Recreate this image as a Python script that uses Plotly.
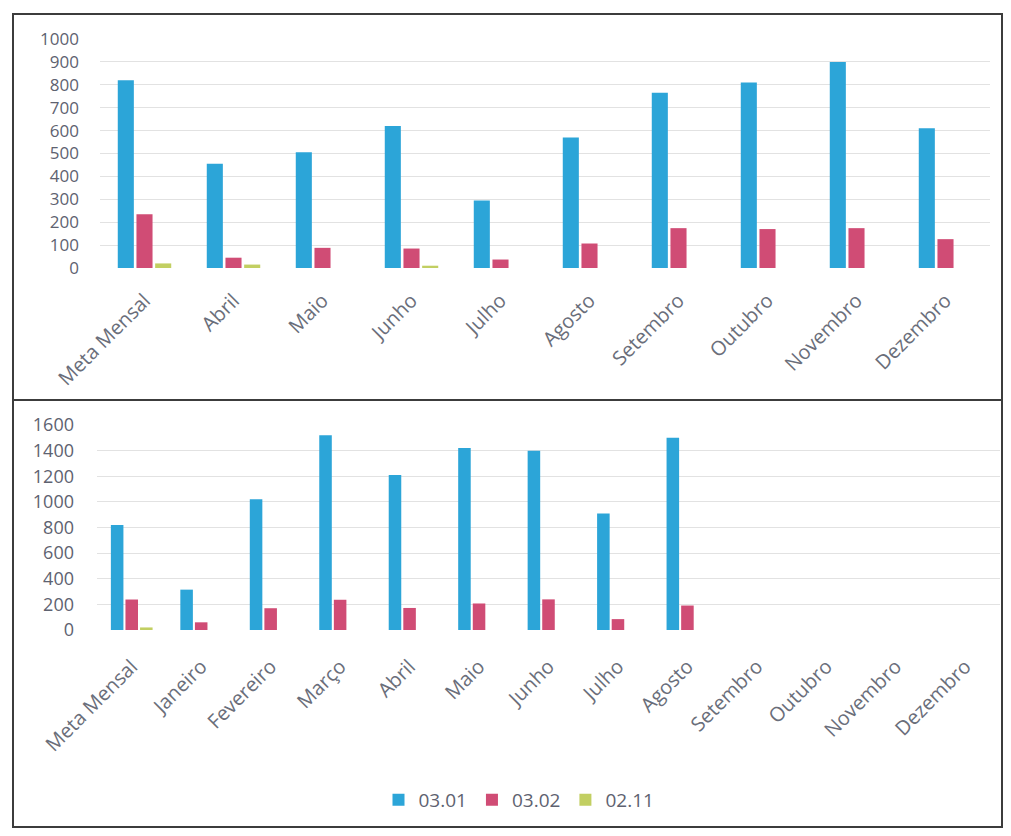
import plotly.graph_objects as go

# ---------------- data ----------------
top_categories = ["Meta Mensal", "Abril", "Maio", "Junho", "Julho", "Agosto",
                  "Setembro", "Outubro", "Novembro", "Dezembro"]
top_0301 = [820, 455, 505, 620, 295, 570, 765, 810, 900, 610]
top_0302 = [235, 45, 88, 85, 37, 107, 174, 170, 174, 126]
top_0211 = [20, 15, 0, 10, 0, 0, 0, 0, 0, 0]

bottom_categories = ["Meta Mensal", "Janeiro", "Fevereiro", "Março", "Abril", "Maio",
                     "Junho", "Julho", "Agosto", "Setembro", "Outubro", "Novembro", "Dezembro"]
bottom_0301 = [820, 315, 1020, 1520, 1210, 1420, 1400, 910, 1500, None, None, None, None]
bottom_0302 = [238, 60, 170, 236, 172, 207, 239, 85, 191, None, None, None, None]
bottom_0211 = [20, 0, 0, 0, 0, 0, 0, 0, 0, None, None, None, None]

series_names = ["03.01", "03.02", "02.11"]
top_ticks = [0, 100, 200, 300, 400, 500, 600, 700, 800, 900, 1000]
bottom_ticks = [0, 200, 400, 600, 800, 1000, 1200, 1400, 1600]

# ---------------- style ----------------
COLORS = ["#2CA5D8", "#D04C75", "#C2CF62"]
TEXT = "#5E6270"
FONT = "Open Sans"
PAGE_MARGIN = 8            # default body margin of the html page
W, H = 1011 - 2 * PAGE_MARGIN, 836 - 2 * PAGE_MARGIN

fig = go.Figure()

for name, vals, col in zip(series_names, [top_0301, top_0302, top_0211], COLORS):
    fig.add_trace(go.Bar(x=top_categories, y=vals, name=name, marker_color=col,
                         marker_line_width=0, showlegend=False,
                         xaxis="x", yaxis="y"))

for name, vals, col in zip(series_names, [bottom_0301, bottom_0302, bottom_0211], COLORS):
    fig.add_trace(go.Bar(x=bottom_categories, y=vals, name=name, marker_color=col,
                         marker_line_width=0, showlegend=True,
                         xaxis="x2", yaxis="y2"))

def px_x(v):
    return (v - PAGE_MARGIN) / W

def px_y(v):
    return 1 - (v - PAGE_MARGIN) / H

y_font = dict(family=FONT, size=17, color=TEXT)
x_font = dict(family=FONT, size=20, color="#6A6E7A")

fig.update_layout(
    width=W, height=H,
    margin=dict(l=0, r=0, t=0, b=0),
    paper_bgcolor="white", plot_bgcolor="white",
    barmode="group", bargap=0.37, bargroupgap=0.14,
    font=dict(family=FONT, color=TEXT),
    xaxis=dict(domain=[px_x(100), px_x(990)], anchor="y", tickangle=-45,
               tickfont=x_font, showgrid=False, showline=False, ticks="",
               automargin=False, ticklabelstandoff=16,
               categoryorder="array", categoryarray=top_categories),
    yaxis=dict(domain=[px_y(268), px_y(39)], anchor="x", range=[0, 1000],
               tickvals=top_ticks, tickfont=y_font, gridcolor="#E2E2E2",
               gridwidth=1, zeroline=False, showline=False, ticks="",
               automargin=False, ticklabelstandoff=20),
    xaxis2=dict(domain=[px_x(97), px_x(1000)], anchor="y2", tickangle=-45,
                tickfont=x_font, showgrid=False, showline=False, ticks="",
                automargin=False, ticklabelstandoff=20,
                categoryorder="array", categoryarray=bottom_categories),
    yaxis2=dict(domain=[px_y(630), px_y(425)], anchor="x2", range=[0, 1600],
                tickvals=bottom_ticks, tickfont=dict(family=FONT, size=18, color=TEXT),
                gridcolor="#E2E2E2",
                gridwidth=1, zeroline=False, showline=False, ticks="",
                automargin=False, ticklabelstandoff=22),
    legend=dict(orientation="h", x=px_x(519), xanchor="center",
                y=px_y(800), yanchor="middle",
                font=dict(family=FONT, size=19, color=TEXT),
                itemwidth=30, tracegroupgap=0, traceorder="normal",
                bgcolor="rgba(0,0,0,0)"),
    shapes=[
        dict(type="rect", xref="paper", yref="paper",
             x0=px_x(13), x1=px_x(1002), y0=px_y(400), y1=px_y(14),
             line=dict(color="#3C3C3C", width=2)),
        dict(type="rect", xref="paper", yref="paper",
             x0=px_x(13), x1=px_x(1002), y0=px_y(827), y1=px_y(400),
             line=dict(color="#3C3C3C", width=2)),
    ],
)

fig.write_html("out.html")
